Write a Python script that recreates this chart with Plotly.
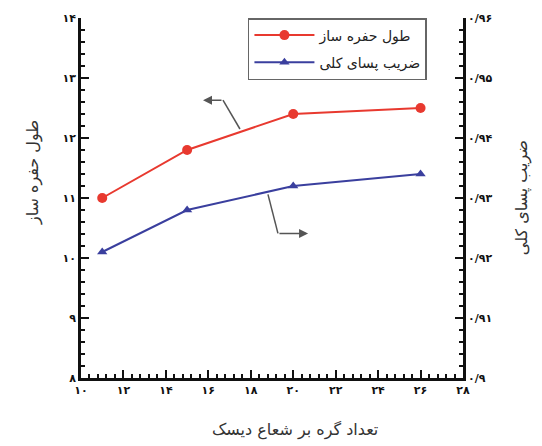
import plotly.graph_objects as go

# Number of nodes along disk radius
nodes = [11, 15, 20, 26]
# Cavitator length (left axis)
cav_length = [11.0, 11.8, 12.4, 12.5]
# Total drag coefficient (right axis)
drag_coef = [0.921, 0.928, 0.932, 0.934]

fa_digits = str.maketrans("0123456789", "۰۱۲۳۴۵۶۷۸۹")

def fa(s):
    return str(s).translate(fa_digits)

x_ticks = list(range(10, 29, 2))
y1_ticks = list(range(8, 15))
y2_ticks = [0.90, 0.91, 0.92, 0.93, 0.94, 0.95, 0.96]
y2_labels = ["۰/۹", "۰/۹۱", "۰/۹۲", "۰/۹۳", "۰/۹۴", "۰/۹۵", "۰/۹۶"]

RED = "#e8392f"
BLUE = "#3a3f9e"
FONT = "DejaVu Sans"

fig = go.Figure()
fig.add_trace(go.Scatter(
    x=nodes, y=cav_length, name="طول حفره ساز", mode="lines+markers", legendgroup="a",
    line=dict(color=RED, width=2), marker=dict(symbol="circle", size=10, color=RED),
))
fig.add_trace(go.Scatter(
    x=nodes, y=drag_coef, name="ضریب پسای کلی", mode="lines+markers", yaxis="y2", legendgroup="b",
    line=dict(color=BLUE, width=2), marker=dict(symbol="triangle-up", size=9, color=BLUE),
))

axis_common = dict(
    showline=True, linecolor="#111", linewidth=2.5, mirror=False,
    ticks="inside", ticklen=8, tickwidth=2, tickcolor="#111",
    showgrid=False, zeroline=False,
    tickfont=dict(family=FONT, size=11, color="#111", weight="bold"),
)

fig.update_layout(
    width=542, height=446,
    margin=dict(l=81, r=79, t=15, b=68),
    paper_bgcolor="white", plot_bgcolor="white",
    font=dict(family=FONT),
    showlegend=True,
    legend=dict(
        x=0.437, y=1.0, xanchor="left", yanchor="top",
        bordercolor="#666", borderwidth=1.5, bgcolor="white",
        font=dict(family=FONT, size=14, color="#222"),
        itemwidth=60, tracegroupgap=6,
    ),
    xaxis=dict(
        range=[10, 28], tickvals=x_ticks, ticktext=[fa(v) for v in x_ticks],
        minor=dict(ticks="inside", ticklen=4, tickwidth=1.5, tickcolor="#111", dtick=0.4),
        **axis_common,
    ),
    yaxis=dict(
        range=[8, 14], tickvals=y1_ticks, ticktext=[fa(v) for v in y1_ticks],
        minor=dict(ticks="inside", ticklen=4, tickwidth=1.5, tickcolor="#111", dtick=0.2),
        **axis_common,
    ),
    yaxis2=dict(
        range=[0.90, 0.96], overlaying="y", side="right",
        tickvals=y2_ticks, ticktext=y2_labels,
        minor=dict(ticks="inside", ticklen=4, tickwidth=1.5, tickcolor="#111", dtick=0.002),
        **axis_common,
    ),
)

# Axis titles
title_font = dict(family=FONT, size=16, color="#333")
fig.add_annotation(text="طول حفره ساز", xref="paper", yref="paper", x=-0.125, y=0.57,
                   xanchor="center", yanchor="middle",
                   textangle=-90, showarrow=False, font=title_font)
fig.add_annotation(text="ضریب پسای کلی", xref="paper", yref="paper", x=1.155, y=0.5,
                   xanchor="center", yanchor="middle",
                   textangle=-90, showarrow=False, font=title_font)
fig.add_annotation(text="تعداد گره بر شعاع دیسک", xref="paper", yref="paper", x=0.56, y=-0.145,
                   xanchor="center", yanchor="middle",
                   showarrow=False, font=title_font)

# Pointer arrows showing which axis each curve belongs to
GREY = "#555"
fig.add_shape(type="line", x0=17.49, y0=12.15, x1=16.69, y1=12.63, line=dict(color=GREY, width=1.5))
fig.add_annotation(x=15.75, y=12.63, ax=16.69, ay=12.63, xref="x", yref="y", axref="x", ayref="y",
                   showarrow=True, arrowhead=2, arrowsize=1.2, arrowwidth=1.5, arrowcolor=GREY, text="")
fig.add_shape(type="line", x0=18.81, y0=11.06, x1=19.28, y1=10.41, line=dict(color=GREY, width=1.5))
fig.add_annotation(x=20.70, y=10.41, ax=19.28, ay=10.41, xref="x", yref="y", axref="x", ayref="y",
                   showarrow=True, arrowhead=2, arrowsize=1.2, arrowwidth=1.5, arrowcolor=GREY, text="")

fig.write_html("out.html")
